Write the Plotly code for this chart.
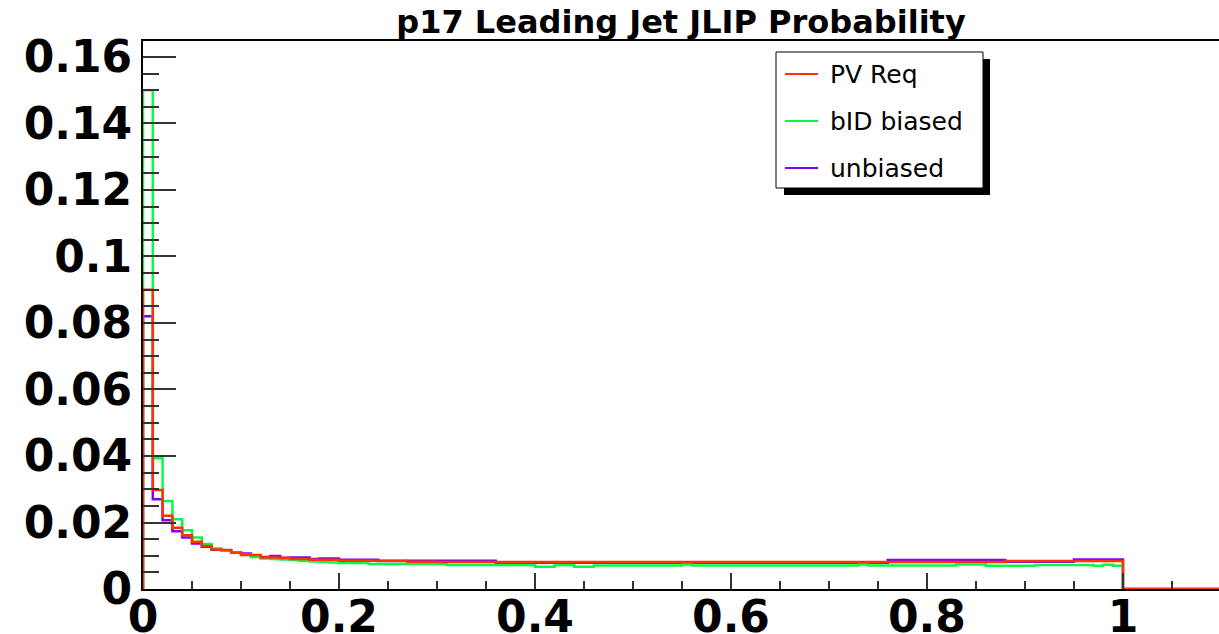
import plotly.graph_objects as go
import numpy as np

# histogram: 110 bins of width 0.01 from 0 to 1.1
bin_width = 0.01
n_bins = 110

pv_req = [
    0.0900, 0.0298, 0.0220, 0.0184, 0.0162, 0.0142, 0.0129, 0.0119, 0.0117, 0.0110,
    0.0102, 0.0102, 0.0095, 0.0095, 0.0093, 0.0090, 0.0090, 0.0088, 0.0088, 0.0088,
    0.0085, 0.0085, 0.0085, 0.0085, 0.0085, 0.0085, 0.0085, 0.0082, 0.0082, 0.0082,
    0.0081, 0.0081, 0.0081, 0.0081, 0.0081, 0.0081, 0.0081, 0.0081, 0.0081, 0.0081,
    0.0081, 0.0081, 0.0081, 0.0081, 0.0081, 0.0081, 0.0081, 0.0081, 0.0081, 0.0081,
    0.0081, 0.0081, 0.0081, 0.0081, 0.0081, 0.0081, 0.0081, 0.0081, 0.0081, 0.0081,
    0.0081, 0.0081, 0.0081, 0.0081, 0.0081, 0.0081, 0.0081, 0.0081, 0.0081, 0.0081,
    0.0081, 0.0081, 0.0081, 0.0081, 0.0081, 0.0081, 0.0081, 0.0081, 0.0081, 0.0081,
    0.0081, 0.0081, 0.0081, 0.0081, 0.0081, 0.0081, 0.0081, 0.0081, 0.0084, 0.0084,
    0.0084, 0.0084, 0.0084, 0.0084, 0.0084, 0.0084, 0.0084, 0.0084, 0.0084, 0.0084,
    0, 0, 0, 0, 0, 0, 0, 0, 0, 0,
]

bid_biased = [
    0.1500, 0.0393, 0.0265, 0.0210, 0.0177, 0.0155, 0.0135, 0.0122, 0.0115, 0.0110,
    0.0103, 0.0096, 0.0092, 0.0090, 0.0089, 0.0087, 0.0085, 0.0083, 0.0082, 0.0080,
    0.0078, 0.0078, 0.0078, 0.0075, 0.0075, 0.0075, 0.0075, 0.0075, 0.0075, 0.0075,
    0.0075, 0.0072, 0.0072, 0.0072, 0.0072, 0.0072, 0.0072, 0.0072, 0.0072, 0.0072,
    0.0067, 0.0067, 0.0072, 0.0072, 0.0067, 0.0067, 0.0071, 0.0071, 0.0071, 0.0071,
    0.0071, 0.0071, 0.0071, 0.0071, 0.0071, 0.0074, 0.0071, 0.0071, 0.0071, 0.0071,
    0.0071, 0.0071, 0.0071, 0.0071, 0.0071, 0.0071, 0.0071, 0.0071, 0.0071, 0.0071,
    0.0071, 0.0071, 0.0071, 0.0074, 0.0071, 0.0071, 0.0071, 0.0071, 0.0071, 0.0071,
    0.0071, 0.0071, 0.0071, 0.0074, 0.0074, 0.0074, 0.0070, 0.0070, 0.0070, 0.0070,
    0.0070, 0.0072, 0.0072, 0.0072, 0.0072, 0.0072, 0.0072, 0.0070, 0.0073, 0.0070,
    0, 0, 0, 0, 0, 0, 0, 0, 0, 0,
]

unbiased = [
    0.0820, 0.0270, 0.0207, 0.0174, 0.0155, 0.0137, 0.0127, 0.0118, 0.0115, 0.0109,
    0.0107, 0.0101, 0.0096, 0.0099, 0.0094, 0.0095, 0.0095, 0.0090, 0.0092, 0.0092,
    0.0088, 0.0088, 0.0088, 0.0088, 0.0084, 0.0084, 0.0084, 0.0085, 0.0085, 0.0085,
    0.0085, 0.0085, 0.0085, 0.0085, 0.0085, 0.0085, 0.0079, 0.0079, 0.0079, 0.0079,
    0.0079, 0.0079, 0.0079, 0.0079, 0.0079, 0.0079, 0.0079, 0.0079, 0.0079, 0.0079,
    0.0079, 0.0079, 0.0079, 0.0079, 0.0079, 0.0079, 0.0079, 0.0079, 0.0079, 0.0079,
    0.0079, 0.0079, 0.0079, 0.0079, 0.0079, 0.0079, 0.0079, 0.0079, 0.0079, 0.0079,
    0.0079, 0.0079, 0.0079, 0.0079, 0.0079, 0.0079, 0.0087, 0.0087, 0.0087, 0.0087,
    0.0087, 0.0087, 0.0087, 0.0087, 0.0087, 0.0087, 0.0087, 0.0087, 0.0082, 0.0082,
    0.0082, 0.0082, 0.0082, 0.0082, 0.0082, 0.0089, 0.0089, 0.0089, 0.0089, 0.0089,
    0, 0, 0, 0, 0, 0, 0, 0, 0, 0,
]

series_names = ["PV Req", "bID biased", "unbiased"]
series_colors = {"PV Req": "#ff3300", "bID biased": "#00ff44", "unbiased": "#8000ff"}
series_values = {"PV Req": pv_req, "bID biased": bid_biased, "unbiased": unbiased}

W, H = 1219, 634
L, R, T, B = 143, 0, 41, 45
plot_w = W - L - R
plot_h = H - T - B


def px(x):
    return (x - L) / plot_w


def py(y):
    return (H - B - y) / plot_h


edges = np.arange(n_bins + 1) * bin_width

fig = go.Figure()
# draw order like the ROOT canvas: unbiased, bID biased, then PV Req on top
for name in ["unbiased", "bID biased", "PV Req"]:
    vals = series_values[name]
    fig.add_trace(go.Scatter(
        x=[0] + list(edges),
        y=[0] + vals + [vals[-1]],
        mode='lines',
        line=dict(color=series_colors[name], width=2.5, shape='hv'),
        name=name,
        showlegend=False,
        cliponaxis=False,
    ))

# legend box drawn by hand (ROOT style with drop shadow)
shapes = [
    dict(type='rect', xref='paper', yref='paper',
         x0=px(784), x1=px(990), y0=py(59), y1=py(195),
         fillcolor='black', line=dict(width=0)),
    dict(type='rect', xref='paper', yref='paper',
         x0=px(776), x1=px(983), y0=py(52), y1=py(188),
         fillcolor='white', line=dict(color='black', width=1)),
]
annotations = []
for i, name in enumerate(series_names):
    yy = 74 + i * 47
    shapes.append(dict(type='line', xref='paper', yref='paper',
                       x0=px(785), x1=px(818), y0=py(yy), y1=py(yy),
                       line=dict(color=series_colors[name], width=2)))
    annotations.append(dict(text=name, xref='paper', yref='paper',
                            x=px(828), y=py(yy), xanchor='left', yanchor='middle',
                            showarrow=False,
                            font=dict(family='DejaVu Sans', size=25, color='black')))

fig.update_layout(
    width=W, height=H,
    margin=dict(l=L, r=R, t=T, b=B, autoexpand=False),
    paper_bgcolor='white',
    plot_bgcolor='white',
    showlegend=False,
    title=dict(text='p17 Leading Jet JLIP Probability',
               font=dict(family='DejaVu Sans', size=32, color='black', weight='bold'),
               x=0.5, xref='paper', xanchor='center',
               y=1 - 22 / H, yref='container', yanchor='middle'),
    shapes=shapes,
    annotations=annotations,
    xaxis=dict(
        range=[0, 1.098], tick0=0, dtick=0.2,
        showgrid=False, zeroline=False, automargin=False,
        showline=True, linecolor='black', linewidth=2, mirror=True,
        ticks='inside', ticklen=16, tickwidth=2, tickcolor='#333',
        minor=dict(dtick=0.05, ticks='inside', ticklen=8, tickwidth=2, tickcolor='#333'),
        tickfont=dict(family='DejaVu Sans', size=44, color='black', weight='bold'),
        ticklabelstandoff=-12,
    ),
    yaxis=dict(
        range=[0, 0.1648], tick0=0, dtick=0.02,
        showgrid=False, zeroline=False, automargin=False,
        showline=True, linecolor='black', linewidth=2, mirror=True,
        ticks='inside', ticklen=33, tickwidth=2, tickcolor='#333',
        minor=dict(dtick=0.005, ticks='inside', ticklen=16, tickwidth=2, tickcolor='#333'),
        tickfont=dict(family='DejaVu Sans', size=44, color='black', weight='bold'),
    ),
)

# drop the default body margin so the figure sits at the window's top-left corner
fig.write_html("out.html", config={'displayModeBar': False},
               post_script="document.body.style.margin='0';document.body.style.overflow='hidden';")
